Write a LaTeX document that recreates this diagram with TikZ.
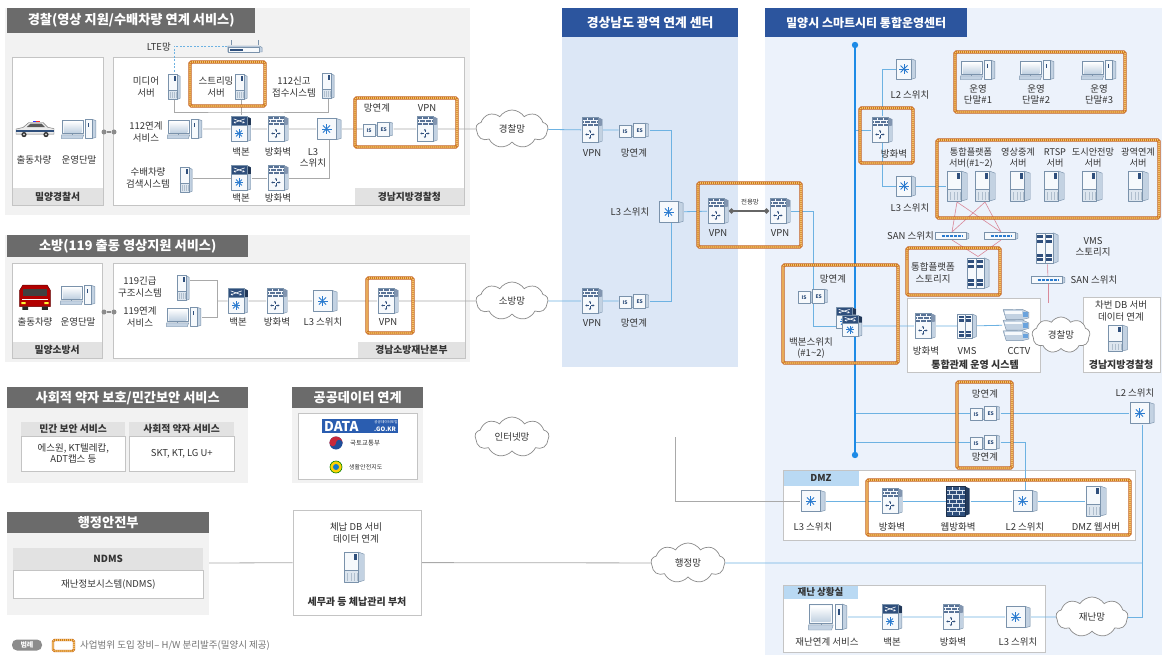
\documentclass[tikz,border=0pt]{standalone}
\usepackage{fontspec}
\setmainfont{Noto Sans CJK KR}
\usetikzlibrary{shapes.symbols,arrows.meta}

\pgfdeclarelayer{pnl}
\pgfdeclarelayer{lin}
\pgfsetlayers{pnl,lin,main}

% ---------- colours ----------
\definecolor{icE}{HTML}{7A92AB}
\definecolor{icF}{HTML}{F6F9FC}
\definecolor{icS}{HTML}{C3D2E2}
\definecolor{icL}{HTML}{DDE6EF}
\definecolor{icD}{HTML}{2F4F7C}
\definecolor{icB}{HTML}{2A7BCF}
\definecolor{ttlG}{HTML}{6B6B6B}
\definecolor{pnlG}{HTML}{F2F2F2}
\definecolor{strip}{HTML}{E2E2E2}
\definecolor{boxE}{HTML}{C4C4C4}
\definecolor{ttlB}{HTML}{2C559E}
\definecolor{pnlB}{HTML}{DCE7F6}
\definecolor{pnlR}{HTML}{ECF2FB}
\definecolor{tabB}{HTML}{B9D9F3}
\definecolor{lnGc}{HTML}{A9A9A9}
\definecolor{lnBc}{HTML}{6DB2E2}
\definecolor{bbc}{HTML}{1E8BE6}
\definecolor{hwO}{HTML}{C35E1A}
\definecolor{hwY}{HTML}{F7C57E}
\definecolor{txt}{HTML}{333333}
\definecolor{redl}{HTML}{D9899A}
\definecolor{cldE}{HTML}{8A8A8A}
\definecolor{dataB}{HTML}{2A5DB0}
\definecolor{gvR}{HTML}{C8283A}
\definecolor{gvB}{HTML}{1F4E9A}

% ---------- device icons (unit box -1..1, y downwards) ----------
\newcommand\IcoBox{%
  \filldraw[draw=icE,fill=icS] (0.55,-0.92) -- (0.93,-0.78) -- (0.93,0.82) -- (0.55,0.93) -- cycle;
  \filldraw[draw=icE,fill=icF] (-0.93,-0.92) rectangle (0.55,0.93);}
\newcommand\IcoStar[2]{\foreach \a in {0,45,...,315} \draw[icB,line width=0.9pt] (#1) -- ++(\a:#2);}
\newcommand\Isrv{%
  \filldraw[draw=icE,fill=icS] (0.42,-0.93) -- (0.93,-0.8) -- (0.93,0.84) -- (0.42,0.93) -- cycle;
  \fill[icF] (-0.93,-0.93) rectangle (0.42,0.93);
  \fill[icL] (-0.93,0.22) rectangle (0.42,0.93);
  \foreach \q in {-0.6,-0.3,0,0.3} \draw[icE!60,line width=0.3pt] (\q,0.4) -- (\q,0.85);
  \draw[icE] (-0.93,0.22) -- (0.42,0.22) (-0.93,-0.93) rectangle (0.42,0.93);
  \fill[icD] (0.0,-0.8) rectangle (0.28,-0.45);}
\newcommand\Ipc{%
  \filldraw[draw=icE,fill=icF] (-0.93,-0.88) rectangle (0.22,0.42);
  \shade[top color=white,bottom color=icS] (-0.84,-0.76) rectangle (0.13,0.3);
  \draw[icE] (-0.35,0.42) -- (-0.35,0.56);
  \filldraw[draw=icE,fill=icS] (-0.97,0.56) -- (0.26,0.56) -- (0.18,0.93) -- (-0.97,0.93) -- cycle;
  \filldraw[draw=icE,fill=icS] (0.72,-0.93) -- (0.94,-0.8) -- (0.94,0.8) -- (0.72,0.9) -- cycle;
  \filldraw[draw=icE,fill=icF] (0.34,-0.93) rectangle (0.72,0.9);
  \fill[icD] (0.48,-0.55) rectangle (0.58,-0.15);}
\newcommand\Ibb{%
  \IcoBox
  \fill[icD!70!black] (0.55,-0.92) -- (0.93,-0.78) -- (0.93,-0.3) -- (0.55,-0.28) -- cycle;
  \filldraw[draw=icE,fill=icD] (-0.93,-0.92) rectangle (0.55,-0.28);
  \draw[white,line width=0.6pt,-{Stealth[length=2pt,width=2.2pt]}] (-0.7,-0.75) -- (0.35,-0.45);
  \draw[white,line width=0.6pt,-{Stealth[length=2pt,width=2.2pt]}] (0.35,-0.75) -- (-0.7,-0.45);
  \IcoStar{-0.19,0.33}{4.2pt}}
\newcommand\Ifw{%
  \IcoBox
  \fill[icD!60] (0.55,-0.92) -- (0.93,-0.78) -- (0.93,-0.32) -- (0.55,-0.3) -- cycle;
  \fill[icD!80] (-0.93,-0.92) rectangle (0.55,-0.3);
  \draw[icF,line width=0.45pt] (-0.93,-0.71) -- (0.55,-0.71) (-0.93,-0.5) -- (0.55,-0.5)
     (-0.45,-0.92) -- (-0.45,-0.71) (0.1,-0.92) -- (0.1,-0.71)
     (-0.72,-0.71) -- (-0.72,-0.5) (-0.17,-0.71) -- (-0.17,-0.5) (0.35,-0.71) -- (0.35,-0.5)
     (-0.45,-0.5) -- (-0.45,-0.3) (0.1,-0.5) -- (0.1,-0.3);
  \draw[icE] (-0.93,-0.92) rectangle (0.55,0.93);
  \foreach \a in {0,90,180,270} \draw[icD,line width=0.6pt,-{Stealth[length=1.8pt,width=2.2pt]}] (-0.19,0.33) ++(\a:1pt) -- ++(\a:3.6pt);}
\newcommand\Isw{\IcoBox\IcoStar{-0.19,0.0}{5pt}}
\newcommand\Iises{%
  \filldraw[draw=icE,fill=icS] (-0.2,-0.6) -- (-0.06,-0.5) -- (-0.06,0.85) -- (-0.2,0.92) -- cycle;
  \filldraw[draw=icE,fill=icF] (-0.95,-0.6) rectangle (-0.2,0.92);
  \filldraw[draw=icE,fill=icS] (0.75,-0.92) -- (0.95,-0.78) -- (0.95,0.82) -- (0.75,0.92) -- cycle;
  \filldraw[draw=icE,fill=icF] (-0.02,-0.92) rectangle (0.75,0.92);
  \node[icn] at (-0.57,0.17) {IS};
  \node[icn] at (0.37,0.02) {ES};}
\newcommand\Isan{%
  \filldraw[draw=icE,fill=icS] (0.8,-0.9) -- (0.96,-0.6) -- (0.96,0.6) -- (0.8,0.9) -- cycle;
  \filldraw[draw=icE,fill=icF] (-0.96,-0.9) rectangle (0.8,0.9);
  \draw[icB,line width=1.4pt,dash pattern=on 3pt off 1pt] (-0.6,0) -- (0.55,0);}
\newcommand\Istor{%
  \IcoBox
  \draw[icE] (-0.19,-0.92) -- (-0.19,0.93);
  \foreach \yy in {-0.7,-0.42,0.45,0.72} {%
    \fill[icD] (-0.8,\yy-0.09) rectangle (-0.3,\yy+0.09);
    \fill[icD] (-0.08,\yy-0.09) rectangle (0.44,\yy+0.09);}}
\newcommand\Icctv{%
  \foreach \yy in {0.62,0.0,-0.62} {%
    \filldraw[draw=icE,fill=icS] (-0.92,\yy-0.28) -- (0.45,\yy-0.3) -- (0.92,\yy-0.12) -- (0.92,\yy+0.2) -- (0.45,\yy+0.3) -- (-0.7,\yy+0.3) -- cycle;
    \fill[icF] (-0.8,\yy-0.2) rectangle (0.4,\yy-0.05);
    \fill[icB!70] (0.5,\yy-0.12) rectangle (0.85,\yy+0.15);}}
\newcommand\Iwfw{%
  \fill[icD!75!black] (0.55,-0.92) -- (0.93,-0.78) -- (0.93,0.82) -- (0.55,0.93) -- cycle;
  \fill[icD] (-0.93,-0.92) rectangle (0.55,0.93);
  \foreach \yy in {-0.66,-0.4,-0.14,0.12,0.38,0.64} \draw[icS!70,line width=0.35pt] (-0.93,\yy) -- (0.55,\yy);
  \foreach \yy in {-0.92,-0.4,0.12,0.64} \draw[icS!70,line width=0.35pt] (-0.45,\yy) -- (-0.45,\yy+0.26) (0.1,\yy) -- (0.1,\yy+0.26);
  \foreach \yy in {-0.66,-0.14,0.38} \draw[icS!70,line width=0.35pt] (-0.72,\yy) -- (-0.72,\yy+0.26) (-0.17,\yy) -- (-0.17,\yy+0.26) (0.35,\yy) -- (0.35,\yy+0.26);
  \draw[icD!60!black] (-0.93,-0.92) rectangle (0.55,0.93);}
\newcommand\Irtr{%
  \draw[icE,line width=0.6pt] (-0.75,-0.1) -- (-0.75,-0.9) (0.75,-0.1) -- (0.75,-0.9);
  \filldraw[draw=icE,fill=icS] (-0.95,0.0) -- (0.8,0.0) -- (0.95,0.25) -- (0.95,0.92) -- (-0.95,0.92) -- cycle;
  \filldraw[draw=icE,fill=icF] (-0.95,0.25) rectangle (0.8,0.92);
  \fill[icD] (-0.85,0.42) rectangle (-0.1,0.75);}
\newcommand\Icar{%
  \filldraw[draw=black!55,fill=black!8] (-0.95,0.55) -- (-0.95,0.1) -- (-0.6,-0.05) -- (-0.3,-0.5) -- (0.4,-0.5) -- (0.65,-0.05) -- (0.95,0.05) -- (0.95,0.55) -- cycle;
  \fill[black!65] (-0.22,-0.4) -- (0.33,-0.4) -- (0.5,-0.07) -- (-0.42,-0.07) -- cycle;
  \fill[icD] (-0.95,0.22) rectangle (0.95,0.32);
  \fill[blue!80] (-0.12,-0.66) rectangle (0.06,-0.5);
  \fill[red!85] (0.06,-0.66) rectangle (0.24,-0.5);
  \fill[black!80] (-0.55,0.6) circle (2.6pt) (0.55,0.6) circle (2.6pt);
  \fill[black!20] (-0.55,0.6) circle (1.1pt) (0.55,0.6) circle (1.1pt);}
\newcommand\Itruck{%
  \filldraw[draw=red!40!black,fill=red!70!black] (-0.9,0.72) -- (-0.9,-0.5) -- (-0.72,-0.88) -- (0.72,-0.88) -- (0.9,-0.5) -- (0.9,0.72) -- cycle;
  \fill[black!75] (-0.72,-0.62) rectangle (0.72,-0.08);
  \fill[white] (-0.75,0.12) rectangle (0.75,0.24);
  \fill[yellow!80] (-0.8,0.38) rectangle (-0.55,0.52) (0.55,0.38) rectangle (0.8,0.52);
  \fill[black!85] (-0.75,0.72) rectangle (-0.4,0.95) (0.4,0.72) rectangle (0.75,0.95);}

\tikzset{
  ico/.style n args={5}{minimum width=#1pt, minimum height=#2pt, inner sep=0pt, outer sep=0pt,
    path picture={\begin{scope}[shift={(path picture bounding box.center)}, x=#3pt, y=-#4pt, line width=0.45pt, line join=round]#5\end{scope}}},
  srv/.style={ico={13}{27}{6.5}{13.5}{\Isrv}},
  msrv/.style={ico={20}{28}{10}{14}{\Isrv}},
  bsrv/.style={ico={22}{32}{11}{16}{\Isrv}},
  pc/.style={ico={36}{21}{18}{10.5}{\Ipc}},
  pcl/.style={ico={40}{28}{20}{14}{\Ipc}},
  bb/.style={ico={21}{27}{10.5}{13.5}{\Ibb}},
  bbs/.style={ico={21}{23}{10.5}{11.5}{\Ibb}},
  fw/.style={ico={22}{27}{11}{13.5}{\Ifw}},
  sw/.style={ico={26}{23}{13}{11.5}{\Isw}},
  sws/.style={ico={20}{22}{10}{11}{\Isw}},
  ises/.style={ico={31}{15}{15.5}{7.5}{\Iises}},
  san/.style={ico={35}{8}{17.5}{4}{\Isan}},
  stor/.style={ico={24}{33}{12}{16.5}{\Istor}},
  vmsi/.style={ico={20}{26}{10}{13}{\Istor}},
  cctv/.style={ico={28}{34}{14}{17}{\Icctv}},
  wfw/.style={ico={25}{32}{12.5}{16}{\Iwfw}},
  rtr/.style={ico={36}{13}{18}{6.5}{\Irtr}},
  car/.style={ico={40}{22}{20}{11}{\Icar}},
  truck/.style={ico={34}{27}{17}{13.5}{\Itruck}},
  icn/.style={font=\fontsize{5}{5}\selectfont\bfseries, text=icD, inner sep=0pt},
  lb/.style={font=\fontsize{9.5}{11.2}\selectfont, text=txt, align=center, inner sep=0pt},
  lbb/.style={font=\fontsize{10}{11.5}\selectfont\bfseries, text=txt, align=center, inner sep=0pt},
  ttl/.style={fill=ttlG, text=white, font=\fontsize{13.2}{15}\selectfont\bfseries, inner sep=0pt, anchor=north west},
  ttlblue/.style={ttl, fill=ttlB, font=\fontsize{12.8}{15}\selectfont\bfseries},
  stp/.style={fill=strip, text=txt, font=\fontsize{9.8}{11}\selectfont\bfseries, inner sep=0pt, anchor=north west},
  tabn/.style={fill=tabB, text=txt, font=\fontsize{9.5}{10}\selectfont\bfseries, inner sep=0pt, anchor=north west},
  wbox/.style={draw=boxE, fill=white, line width=0.6pt},
  hw/.style={draw=hwO, line width=3.4pt, rounded corners=1.5pt,
    postaction={draw=hwY, line width=1.6pt},
    postaction={draw=hwO!80!yellow, line width=1.6pt, dash pattern=on 0.9pt off 1.1pt}},
  lnG/.style={draw=lnGc, line width=0.8pt},
  lnB/.style={draw=lnBc, line width=0.8pt},
  lnR/.style={draw=redl, line width=0.6pt},
  cld/.style={cloud, cloud puffs=9, cloud puff arc=115, cloud ignores aspect, draw=cldE, fill=white, line width=0.7pt,
    inner sep=0pt, font=\fontsize{9.5}{11}\selectfont, text=txt},
  dotn/.style={circle, fill=black!45, minimum size=5pt, inner sep=0pt},
}

\begin{document}
\begin{tikzpicture}[x=1pt,y=-1pt]
\useasboundingbox (0,0) rectangle (1162,655);

% ---------- panels ----------
\begin{pgfonlayer}{pnl}
  \fill[white] (0,0) rectangle (1162,655);
  \fill[pnlG] (5,8) rectangle (470,215);
  \draw[wbox] (12,57) rectangle (103,205);
  \draw[wbox] (113,57) rectangle (464,205);
  \fill[pnlG] (5,235) rectangle (470,362);
  \draw[wbox] (12,263) rectangle (102,358);
  \draw[wbox] (113,263) rectangle (465,358);
  \fill[pnlG] (7,387) rectangle (248,483);
  \fill[pnlG] (292,387) rectangle (423,483);
  \draw[wbox] (298,413) rectangle (417,479);
  \fill[pnlG] (7,512) rectangle (209,615);
  \fill[pnlB] (562,8) rectangle (738,367);
  \fill[pnlR] (765,8) rectangle (1162,655);
  \draw[wbox] (907,298) rectangle (1040,372);
  \draw[wbox] (1083,297) rectangle (1160,372);
  \draw[wbox] (783,470) rectangle (1135,540);
  \draw[wbox] (783,585) rectangle (1045,652);
\end{pgfonlayer}

% ---------- titles and strips ----------
\node[ttl, minimum width=248pt, minimum height=25pt] (tPol) at (7,8) {경찰(영상 지원/수배차량 연계 서비스)};
\node[stp, minimum width=90pt, minimum height=16.7pt] (stPol1) at (12.5,188) {밀양경찰서};
\node[stp, minimum width=108.5pt, minimum height=16.7pt] (stPol2) at (355,188) {경남지방경찰청};
\node[ttl, minimum width=241pt, minimum height=22pt] (tFire) at (7,235) {소방(119 출동 영상지원 서비스)};
\node[stp, minimum width=89pt, minimum height=15.7pt] (stFire1) at (12.5,342) {밀양소방서};
\node[stp, minimum width=106.5pt, minimum height=15.7pt] (stFire2) at (358,342) {경남소방재난본부};
\node[ttl, minimum width=241pt, minimum height=21pt] (tSoc) at (7,387) {사회적 약자 보호/민간보안 서비스};
\node[ttl, minimum width=131pt, minimum height=21pt] (tPub) at (292,387) {공공데이터 연계};
\node[ttl, minimum width=202pt, minimum height=21pt] (tMois) at (7,512) {행정안전부};
\node[ttlblue, minimum width=176pt, minimum height=29pt] (tGN) at (562,8) {경상남도 광역 연계 센터};
\node[ttlblue, minimum width=202pt, minimum height=29pt, font=\fontsize{12}{14}\selectfont\bfseries] (tMY) at (765,8) {밀양시 스마트시티 통합운영센터};

% ---------- police ----------
\node[car] (car) at (35,128) {};
\node[pc] (pcOp) at (79,129) {};
\node[lb] (lcar) at (34,160) {출동차량};
\node[lb] (lpcOp) at (79,160) {운영단말};
\node[dotn] (dP1) at (104,132) {};
\node[dotn] (dP2) at (114,132) {};

\node[rtr] (rLTE) at (245,46) {};
\node[lb, anchor=east] (lLTE) at (171,47) {LTE망};
\node[srv] (sMed) at (174,87) {};
\node[lb] (lMed) at (146,87) {미디어\\서버};
\draw[hw] (190,62) rectangle (265,106);
\node[lb] (lStr) at (216,87) {스트리밍\\서버};
\node[srv] (sStr) at (241,87) {};
\node[lb] (lRcv) at (294,87) {112신고\\접수시스템};
\node[srv] (sRcv) at (328,86) {};
\coordinate (jTop) at (241,112);

\node[lb] (lPc112) at (146,132) {112연계\\서비스};
\node[pc] (pcP) at (185,129) {};
\node[bb] (bbP1) at (241,129) {};
\node[lb] (lbbP1) at (241,152) {백본};
\node[fw] (fwP1) at (278,129) {};
\node[lb] (lfwP1) at (278,152) {방화벽};
\node[sw] (swP) at (329,129) {};
\node[lb] (lswP) at (313,158) {L3\\스위치};
\node[lb] (lSrch) at (148,178) {수배차량\\검색시스템};
\node[srv] (sSrch) at (186,180) {};
\node[bb] (bbP2) at (241,178) {};
\node[lb] (lbbP2) at (241,198) {백본};
\node[fw] (fwP2) at (278,178) {};
\node[lb] (lfwP2) at (278,198) {방화벽};
\draw[hw] (355,98) rectangle (457,147);
\node[lb] (lxP) at (377,108) {망연계};
\node[ises] (xP) at (378,129) {};
\node[lb] (lvP) at (427,108) {VPN};
\node[fw] (vP) at (427,129) {};
\node[cld, minimum width=72pt, minimum height=38pt] (cP) at (512,129) {경찰망};

% ---------- fire ----------
\node[truck] (truck) at (35,297) {};
\node[pc] (pcFo) at (78,295) {};
\node[lb] (ltruck) at (35,322) {출동차량};
\node[lb] (lpcFo) at (78,322) {운영단말};
\node[dotn] (dF1) at (104,312) {};
\node[dotn] (dF2) at (114,312) {};
\node[lb] (l119a) at (140,287) {119긴급\\구조시스템};
\node[srv] (sF119) at (183,288) {};
\node[lb] (l119b) at (140,317) {119연계\\서비스};
\node[pc] (pcF) at (184,317) {};
\coordinate (jF) at (217,301);
\node[bb] (bbF) at (238,301) {};
\node[lb] (lbbF) at (238,322) {백본};
\node[fw] (fwF) at (277,301) {};
\node[lb] (lfwF) at (277,322) {방화벽};
\node[sw] (swF) at (325,301) {};
\node[lb] (lswF) at (323,322) {L3 스위치};
\draw[hw] (367,278) rectangle (413,333);
\node[fw] (vF) at (388,301) {};
\node[lb] (lvF) at (388,322) {VPN};
\node[cld, minimum width=72pt, minimum height=38pt] (cF) at (512,301) {소방망};

% ---------- social / private security ----------
\node[stp, minimum width=104pt, minimum height=14pt] (hSec) at (21,422) {민간 보안 서비스};
\node[wbox, lb, minimum width=104pt, minimum height=35pt, anchor=north west] (bSec) at (21,436) {에스원, KT텔레캅,\\ADT캡스 등};
\node[stp, minimum width=105pt, minimum height=14pt] (hSoc) at (129,422) {사회적 약자 서비스};
\node[wbox, lb, minimum width=105pt, minimum height=35pt, anchor=north west] (bSoc) at (129,436) {SKT, KT, LG U+};

% ---------- public data ----------
\node[fill=dataB, minimum width=76pt, minimum height=14pt, inner sep=0pt, anchor=north west] (dBox) at (322,419) {};
\node[font=\fontsize{13.5}{14}\selectfont\bfseries, text=white, inner sep=0pt, anchor=west] (dTxt) at (324,426.5) {DATA};
\node[font=\fontsize{3.6}{4}\selectfont, text=white, inner sep=0pt] (dTiny) at (386,422.5) {공공데이터포털};
\node[font=\fontsize{6}{6}\selectfont\bfseries, text=white, inner sep=0pt] (dGo) at (385,429.5) {.GO.KR};
\fill[gvB] (336,443) circle (6.5pt);
\fill[gvR] (329.5,443) arc[start angle=180, end angle=360, radius=6.5] -- cycle;
\fill[gvR] (332.75,443) circle (3.25pt);
\fill[gvB] (339.25,443) circle (3.25pt);
\node[font=\fontsize{6.5}{7}\selectfont, text=txt, inner sep=0pt, anchor=west] (lMolit) at (350,443) {국토교통부};
\filldraw[draw=green!50!black, fill=yellow!70!orange, line width=0.6pt] (336,467) circle (6pt);
\fill[cyan!60!blue] (336,467) circle (3pt);
\node[font=\fontsize{6}{7}\selectfont, text=txt, inner sep=0pt, anchor=west] (lSafe) at (349,467) {생활안전지도};

% ---------- MOIS / tax ----------
\node[stp, minimum width=190pt, minimum height=22pt] (hN) at (13,548) {NDMS};
\node[wbox, lb, minimum width=190pt, minimum height=28pt, anchor=north west] (bN) at (13,570) {재난정보시스템(NDMS)};
\coordinate (jN) at (209,563);
\node[wbox, minimum width=128pt, minimum height=105pt, inner sep=0pt] (boxTax) at (357,562.5) {};
\node[lb] (lTax) at (356,533) {체납 DB 서비\\데이터 연계};
\node[bsrv] (sTax) at (354,567) {};
\node[lbb] (lTax2) at (357,602) {세무과 등 체납관리 부처};

% ---------- Gyeongnam centre ----------
\node[fw] (vG1) at (592,130) {};
\node[lb] (lvG1) at (592,153) {VPN};
\node[ises] (iG1) at (634,130) {};
\node[lb] (liG1) at (634,153) {망연계};
\node[sw] (swG) at (671,212) {};
\node[lb] (lswG) at (630,212) {L3 스위치};
\node[fw] (vG2) at (592,301) {};
\node[lb] (lvG2) at (592,323) {VPN};
\node[ises] (iG2) at (634,301) {};
\node[lb] (liG2) at (634,323) {망연계};
\draw[hw] (698,183) rectangle (801,247);
\node[fw] (vX1) at (718,211) {};
\node[lb] (lvX1) at (718,233) {VPN};
\node[fw] (vX2) at (780,211) {};
\node[lb] (lvX2) at (780,233) {VPN};
\node[lb, font=\fontsize{6.5}{7}\selectfont] (lded) at (750,202) {전용망};
\node[cld, minimum width=74pt, minimum height=40pt] (cI) at (512,437) {인터넷망};
\coordinate (jI) at (675,437);
\node[cld, minimum width=74pt, minimum height=40pt] (cA) at (688,563) {행정망};

% ---------- Miryang centre ----------
\coordinate (bTop) at (855,45);
\coordinate (bBot) at (855,455);
\coordinate (b130) at (855,130);
\coordinate (b413) at (855,413);
\coordinate (b442) at (855,442);
\node[sws] (swL2T) at (906,69) {};
\node[lb] (lL2T) at (910,95) {L2 스위치};
\draw[hw] (860,108) rectangle (913,163);
\node[fw] (fwR) at (882,130) {};
\node[lb] (lfwR) at (894,154) {방화벽};
\node[sws] (swL3T) at (906,186) {};
\node[lb] (lL3T) at (910,208) {L3 스위치};

\draw[hw] (955,52) rectangle (1125,112);
\node[pc] (op1) at (978,70) {};
\node[pc] (op2) at (1037,70) {};
\node[pc] (op3) at (1099,70) {};
\node[lb] (lop1) at (978,94) {운영\\단말\#1};
\node[lb] (lop2) at (1036,94) {운영\\단말\#2};
\node[lb] (lop3) at (1099,94) {운영\\단말\#3};

\draw[hw] (937,140) rectangle (1159,218);
\node[lb, font=\fontsize{9.2}{11}\selectfont] (lsv1) at (971,158) {통합플랫폼\\서버(\#1\textasciitilde 2)};
\node[lb, font=\fontsize{9.2}{11}\selectfont] (lsv3) at (1018,158) {영상중계\\서버};
\node[lb, font=\fontsize{9.2}{11}\selectfont] (lsv4) at (1055,158) {RTSP\\서버};
\node[lb, font=\fontsize{9.2}{11}\selectfont] (lsv5) at (1093,158) {도시안전망\\서버};
\node[lb, font=\fontsize{9.2}{11}\selectfont] (lsv6) at (1138,158) {광역연계\\서버};
\node[bsrv] (sv1) at (957,186) {};
\node[bsrv] (sv2) at (985,186) {};
\node[bsrv] (sv3) at (1020,186) {};
\node[bsrv] (sv4) at (1054,186) {};
\node[bsrv] (sv5) at (1092,186) {};
\node[bsrv] (sv6) at (1138,186) {};

\node[san] (san1) at (952,236) {};
\node[san] (san2) at (1001,236) {};
\node[lb, anchor=east] (lsan1) at (934,236) {SAN 스위치};
\draw[hw] (907,248) rectangle (1000,295);
\node[lb] (lstP) at (933,273) {통합플랫폼\\스토리지};
\node[stor] (stP) at (978,273) {};
\node[stor] (stV) at (1047,248) {};
\node[lb] (lstV) at (1093,247) {VMS\\스토리지};
\node[san] (san3) at (1048,280) {};
\node[lb] (lsan3) at (1094,280) {SAN 스위치};
\coordinate (jSan) at (1048,303);

\node[fw] (fwC) at (925,326) {};
\node[lb] (lfwC) at (926,351) {방화벽};
\node[vmsi] (vmsR) at (967,326) {};
\node[lb] (lvms) at (967,351) {VMS};
\node[cctv] (cctv) at (1016,325) {};
\node[lb] (lcctv) at (1019,351) {CCTV};
\node[lbb] (lCtl) at (975,365) {통합관제 운영 시스템};
\node[cld, minimum width=58pt, minimum height=36pt] (cR) at (1061,335) {경찰망};
\node[lb] (lDB) at (1121,311) {차번 DB 서버\\데이터 연계};
\node[msrv] (sDB) at (1118,338) {};
\node[lbb] (lGNP) at (1121,365) {경남지방경찰청};

\draw[hw] (783,265) rectangle (898,363);
\node[lb] (lxR) at (833,279) {망연계};
\node[ises] (iR) at (813,296) {};
\node[bbs] (bbR0) at (846,318) {};
\node[bbs] (bbR) at (852,326) {};
\node[lb] (lbbR) at (811,348) {백본스위치\\(\#1\textasciitilde 2)};

\draw[hw] (957,382) rectangle (1012,468);
\node[lb] (lxL1) at (985,394) {망연계};
\node[ises] (iL1) at (985,413) {};
\node[ises] (iL2) at (985,442) {};
\node[lb] (lxL2) at (985,457) {망연계};
\node[sw] (swL2R) at (1142,413) {};
\node[lb] (lL2R) at (1135,393) {L2 스위치};
\coordinate (jA) at (1142,563);

\node[tabn, minimum width=75pt, minimum height=15pt] (tDMZ) at (783.3,470.3) {DMZ};
\draw[hw] (867,480) rectangle (1130,535);
\node[sw] (swL3D) at (813,501) {};
\node[lb] (lL3D) at (813,527) {L3 스위치};
\node[fw] (fwD) at (892,501) {};
\node[lb] (lfwD) at (892,527) {방화벽};
\node[wfw] (wfwD) at (958,501) {};
\node[lb] (lwfwD) at (958,527) {웹방화벽};
\node[sw] (swL2D) at (1025,501) {};
\node[lb] (lL2D) at (1025,527) {L2 스위치};
\node[bsrv] (webD) at (1096,501) {};
\node[lb] (lwebD) at (1096,527) {DMZ 웹서버};

\node[tabn, minimum width=74pt, minimum height=13pt] (tDis) at (783.3,585.3) {재난 상황실};
\node[pcl] (pcD) at (828,617) {};
\node[lb] (lpcD) at (827,642) {재난연계 서비스};
\node[bb] (bbD) at (892,617) {};
\node[lb] (lbbD) at (892,642) {백본};
\node[fw] (fwDD) at (953,617) {};
\node[lb] (lfwDD) at (953,642) {방화벽};
\node[sw] (swL3DD) at (1018,617) {};
\node[lb] (lL3DD) at (1018,642) {L3 스위치};
\node[cld, minimum width=72pt, minimum height=40pt] (cD) at (1092,617) {재난망};

% ---------- legend ----------
\node[fill=black!45, text=white, rounded corners=5pt, font=\fontsize{7}{8}\selectfont\bfseries, minimum width=30pt, minimum height=11pt, inner sep=0pt] (lgK) at (27,645) {범례};
\draw[hw, line width=2.4pt] (53,640) rectangle (74,651);
\node[lb, anchor=west, text=black!55] (lgT) at (80,645.5) {사업범위 도입 장비– H/W 분리발주(밀양시 제공)};

% ---------- connectors ----------
\begin{pgfonlayer}{lin}
  % police
  \draw[lnB, dash pattern=on 2pt off 1.5pt] (rLTE.west) -| (sMed.north);
  \draw[lnG] (sMed.south) |- (jTop) -| (sRcv.south);
  \draw[lnG] (sStr.south) -- (bbP1.north);
  \draw[lnG] (pcP) -- (bbP1) -- (fwP1) -- (swP) -- (xP) -- (vP) -- (cP);
  \draw[lnG] (sSrch.east |- bbP2.west) -- (bbP2) -- (fwP2);
  \draw[lnG] (fwP2.east) -| (swP.south);
  \draw[black!45, line width=1.6pt] (dP1) -- (dP2);
  % fire
  \draw[lnG] ([yshift=8pt]sF119.east) -| (jF);
  \draw[lnG] (pcF.east) -| (jF);
  \draw[lnG] (jF) -- (bbF) -- (fwF) -- (swF) -- (vF) -- (cF);
  \draw[black!45, line width=1.6pt] (dF1) -- (dF2);
  % Gyeongnam
  \draw[lnB] (cP) -- (vG1) -- (iG1);
  \draw[lnB] (iG1.east) -| (swG.north);
  \draw[lnB] (cF) -- (vG2) -- (iG2);
  \draw[lnB] (iG2.east) -| (swG.south);
  \draw[lnB] (swG) -- (vX1);
  \draw[black!60, line width=1.8pt, {Circle[length=5pt]}-{Circle[length=5pt]}] (vX1.east) -- (vX2.west);
  % Miryang upper
  \draw[lnB] (b130) -- (fwR);
  \draw[lnB] (swL2T.west) -| (fwR.north);
  \draw[lnB] (fwR.south) |- (swL3T.west);
  \draw[lnB] (swL3T) -- (sv1);
  \draw[lnR] (sv1.south) -- (san1.north) (sv1.south) -- (san2.north)
             (sv2.south) -- (san1.north) (sv2.south) -- (san2.north);
  \draw[lnR] (san1.south) -- (stP.north) (san2.south) -- (stP.north);
  \draw[lnR] (stV) -- (san3);
  \draw[lnR] (san3.south) -- (jSan);
  \draw[lnB] (vX2.east) -| (iR.north);
  \draw[lnB] (iR.south) |- (bbR.west);
  \draw[lnB] (bbR) -- (fwC) -- (vmsR) -- (cctv);
  % Miryang lower
  \draw[lnB] (b413) -- (iL1) -- (swL2R);
  \draw[lnB] (b442) -- (iL2);
  \draw[lnB] (iL2.east) -| (swL2D.north);
  \draw[lnB] (swL2R.south) |- (cD.east);
  \draw[lnG] (jI) |- (swL3D.west);
  \draw[lnB] (swL3D) -- (fwD) -- (wfwD) -- (swL2D) -- (webD);
  \draw[lnB] (pcD) -- (bbD) -- (fwDD) -- (swL3DD) -- (cD);
  \draw[lnG] (jN) -- (boxTax);
  \draw[lnG] (boxTax) -- (cA);
  \draw[lnB] (cA) -- (jA);
  % backbone bus
  \draw[bbc, line width=2.2pt] (bTop) -- (bBot);
  \fill[bbc] (bTop) circle (3.2pt) (bBot) circle (3.2pt);
\end{pgfonlayer}
\end{tikzpicture}
\end{document}
